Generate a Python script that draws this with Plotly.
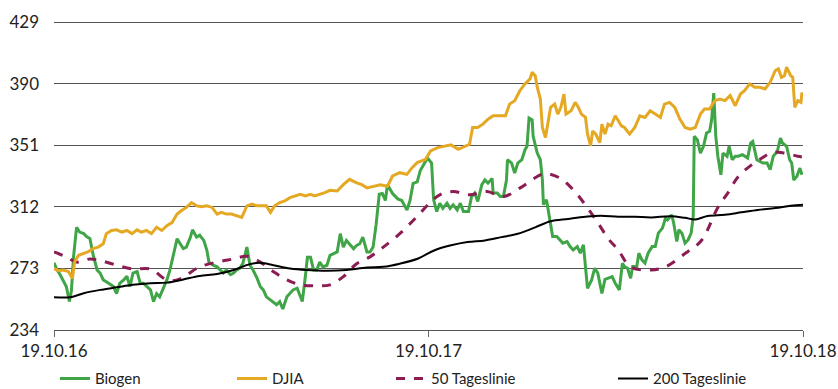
import pandas as pd
import plotly.graph_objects as go

START = "2016-10-19"

# Biogen (days since 19.10.2016, price)
bio_days = [0, 3, 6, 9, 12, 15, 17, 19, 22, 25, 29, 32, 35, 38, 42, 45, 48, 51, 55, 58, 61, 64, 68, 71, 74, 77, 81, 84, 87, 90,
            94, 97, 100, 103, 107, 110, 113, 116, 120, 123, 126, 129, 133, 135, 139, 142, 146, 149, 151, 155, 159, 162, 165, 168,
            172, 175, 178, 181, 184, 188, 191, 194, 198, 201, 204, 207, 211, 214, 217, 220, 223, 227, 230, 233, 237, 240, 242,
            245, 247, 250, 253, 256, 259, 262, 266, 269, 272, 276, 279, 282, 285, 288, 292, 295, 298, 301, 305, 308, 311, 314,
            317, 320, 323, 325, 327, 330, 335, 339, 344, 347, 350, 354, 357, 360, 364, 368, 370, 373, 376, 379, 383, 386, 389,
            393, 396, 399, 404, 407, 410, 413, 417, 420, 423, 427, 428, 432, 435, 438, 441, 442, 446, 449, 452, 456, 459, 461,
            463, 466, 467, 471, 474, 476, 477, 480, 483, 486, 490, 493, 496, 500, 503, 506, 510, 513, 516, 518, 520, 524, 527,
            530, 534, 537, 540, 544, 547, 551, 554, 556, 559, 562, 564, 568, 570, 573, 576, 579, 583, 586, 589, 593, 596, 598,
            602, 604, 607, 609, 612, 615, 618, 621, 623, 624, 627, 630, 633, 636, 639, 641, 643, 645, 647, 650, 652, 656, 658,
            661, 664, 667, 671, 673, 676, 679, 681, 685, 688, 691, 695, 698, 701, 705, 708, 710, 714, 717, 719, 721, 724, 727, 729]
bio_vals = [276.5, 272, 269, 265.7, 261.5, 252, 259, 280, 299, 296, 295, 293, 292, 282, 272, 270, 265.7, 264.6, 262.6, 261.5,
            257, 263.6, 265.7, 268, 261.5, 270, 271, 263.6, 263.6, 261.5, 259.4, 252, 257, 255, 261.5, 265.7, 272, 280, 291.8,
            288.6, 285.5, 286.5, 292.8, 297.4, 292.8, 294, 290.7, 284.5, 277, 275, 274, 272, 270, 272, 269, 270, 272, 273, 276,
            286.5, 275, 272, 266.7, 261.5, 259.4, 255, 253, 251, 250, 252, 247.3, 255, 257, 259.4, 260.5, 255, 252, 268, 280,
            280, 272, 272, 277, 274, 275, 281.3, 282.4, 283.4, 295, 286.5, 290.7, 288.6, 285.5, 287.6, 288.6, 292.8, 283.4,
            283.4, 286.5, 301, 320, 320.4, 316, 326, 323.6, 320.4, 317, 316, 310, 316, 326.8, 327.8, 335, 338.4, 342.9, 339.7,
            316.4, 309, 314.3, 311, 314.3, 311, 313.3, 310, 314.3, 309, 309, 318.5, 320.7, 315.4, 326, 329, 327, 330, 320.7,
            320.7, 318.5, 318.5, 329, 341.8, 339.7, 333.3, 339.7, 341.8, 348, 350.3, 368.2, 367, 356.6, 346, 341.8, 329, 313.3,
            316.4, 305.9, 293.2, 293.2, 291, 289, 290, 286.8, 284.7, 286.8, 282.6, 287.9, 274, 260.4, 265.7, 273.1, 270, 257.2,
            266, 266.8, 267.8, 263.6, 259.4, 276.3, 274.2, 273.1, 266.8, 274.2, 274.2, 282.6, 278.4, 276.3, 282.6, 286.8, 286.8,
            295.3, 298.5, 304.8, 303.7, 306.9, 301.6, 290, 297.4, 295.3, 289, 291, 295.3, 305.9, 356.6, 354.5, 346, 350.3, 358.7,
            359.8, 367.2, 384, 356.6, 344, 332.3, 346, 344, 350.3, 341.8, 344, 344, 345, 344, 342.9, 352.4, 353.4, 341.8, 340.7,
            339.7, 339.7, 335.5, 344, 347.1, 355.5, 352.4, 350.3, 341.8, 339.7, 329, 331.2, 336.5, 332.3]

# DJIA (rescaled)
dj_days = [0, 4, 9, 14, 18, 20, 24, 29, 33, 38, 43, 48, 51, 56, 61, 66, 71, 76, 81, 85, 90, 95, 100, 105, 110, 115, 120, 124,
           129, 134, 139, 144, 149, 154, 159, 163, 168, 173, 178, 183, 188, 193, 198, 202, 207, 211, 215, 220, 225, 230, 235,
           240, 245, 250, 254, 259, 264, 269, 276, 282, 288, 295, 300, 305, 311, 318, 325, 330, 337, 344, 349, 354, 362, 367,
           374, 381, 387, 394, 401, 405, 408, 413, 418, 423, 428, 435, 440, 444, 449, 454, 459, 464, 466, 469, 471, 474, 476,
           479, 481, 484, 488, 491, 494, 497, 499, 504, 508, 511, 514, 518, 520, 523, 525, 528, 532, 534, 537, 540, 543, 547,
           550, 553, 556, 561, 566, 571, 576, 581, 586, 591, 595, 600, 605, 610, 615, 620, 625, 630, 634, 639, 644, 649, 654,
           659, 664, 669, 673, 678, 683, 688, 693, 698, 703, 706, 709, 712, 714, 718, 720, 722, 725, 728, 729]
dj_vals = [273, 271.5, 272, 271, 266.7, 277, 281.3, 282.4, 283.4, 285.5, 286.5, 288.6, 295, 297, 297.4, 296, 297, 295, 297.4,
           296, 297, 295, 299, 297, 300, 302, 307.4, 309.5, 311.6, 314.7, 312.6, 312, 312.6, 311.6, 307.4, 308.5, 307.4, 307.4,
           306.4, 305.3, 312.6, 313.7, 312.6, 312.6, 312.6, 308.5, 312.6, 314.7, 315.8, 317.8, 318.9, 319.9, 318.9, 319.9,
           318.9, 319.9, 321, 322.4, 322, 326, 329.4, 327.2, 326, 324, 325, 326, 325, 331.5, 333.6, 332.5, 336.8, 340, 342,
           347.4, 349.5, 350.6, 351.2, 348.4, 350.6, 351.6, 362.2, 362.2, 364.3, 367.5, 369.6, 369.6, 369.6, 377, 379.2, 385.5,
           389.8, 393, 397.2, 395, 387.7, 380.2, 362.2, 355.9, 364.3, 375, 377, 370.7, 375, 383.4, 370.7, 372.8, 378.1, 375,
           370.7, 368.6, 358, 350.6, 360, 358, 352.7, 364.3, 358, 364.3, 363.3, 369.6, 366.5, 363.3, 362.2, 358, 362.2, 369.6,
           368.6, 372.8, 370.7, 368.6, 377, 378.1, 375, 367.5, 362.2, 361.2, 362.2, 370.7, 373.9, 373.9, 379.2, 380.2, 379.2,
           382.4, 376, 383.4, 385.5, 389.8, 387.7, 387.7, 386.6, 390.8, 398.3, 399.3, 394, 395, 400.4, 395, 394, 375, 379.2,
           378.1, 384.5]

# 50 Tageslinie
ma50_days = [0, 12, 22, 35, 45, 61, 77, 94, 110, 120, 129, 142, 159, 175, 188, 201, 214, 227, 240, 256, 269, 282, 295, 308,
             321, 337, 353, 366, 376, 389, 405, 422, 438, 454, 471, 479, 493, 506, 519, 530, 540, 550, 562, 582, 596, 615, 631,
             647, 657, 667, 680, 690, 700, 712, 725, 730]
ma50_vals = [283.4, 280.3, 277, 279, 278, 275, 272.6, 272.6, 265.7, 265.7, 268.8, 274, 277, 279, 280.7, 277, 270.9, 265.7,
             262.6, 262, 262.6, 267.8, 276, 280.3, 286.5, 295, 305.3, 314.3, 319.6, 321.7, 319.6, 321.7, 318.5, 323.8, 331.2,
             333, 330.2, 322.8, 312.2, 302, 292, 284.5, 274, 272, 274, 282.4, 290.7, 311.6, 321, 331.2, 338.6, 342.9, 346.5,
             346, 344, 343.5]

# 200 Tageslinie
ma200_days = [0, 16, 29, 45, 61, 77, 94, 110, 126, 142, 159, 175, 191, 201, 214, 230, 246, 266, 285, 305, 321, 337, 355, 371,
              387, 403, 420, 436, 452, 469, 484, 501, 518, 533, 550, 566, 582, 601, 615, 625, 637, 654, 670, 686, 703, 718, 730]
ma200_vals = [254.8, 254.8, 257.3, 259.4, 261, 262.6, 263.6, 264, 266, 268.2, 269.4, 272, 275.7, 276.5, 275, 273, 272, 271.5,
              272, 273.6, 274, 276, 279.3, 284.5, 287.6, 289.7, 290.7, 292.8, 294.9, 299, 302.8, 304.3, 305.7, 306.4, 305.7,
              305.7, 305.3, 306, 305, 304, 306.2, 307, 308.5, 310, 311.2, 312.6, 313.3]

y_ticks = [234, 273, 312, 351, 390, 429]
x_tick_dates = ["2016-10-19", "2017-10-19", "2018-10-19"]
x_tick_text = ["19.10.16", "19.10.17", "19.10.18"]


def to_dates(days):
    return pd.Timestamp(START) + pd.to_timedelta(days, unit="D")


FONT = "Lato"
fig = go.Figure()
fig.add_trace(go.Scatter(x=to_dates(bio_days), y=bio_vals, mode="lines", name="Biogen",
                         line=dict(color="#3fa546", width=3), legend="legend"))
fig.add_trace(go.Scatter(x=to_dates(ma50_days), y=ma50_vals, mode="lines", name="50 Tageslinie",
                         line=dict(color="#8b1d52", width=3, dash="dash", shape="spline"), legend="legend3"))
fig.add_trace(go.Scatter(x=to_dates(ma200_days), y=ma200_vals, mode="lines", name="200 Tageslinie",
                         line=dict(color="#000000", width=2, shape="spline"), legend="legend4"))
fig.add_trace(go.Scatter(x=to_dates(dj_days), y=dj_vals, mode="lines", name="DJIA",
                         line=dict(color="#e5a823", width=3), legend="legend2"))

# plot area: bottom edge at 330 px; 234..429 spans 308 px -> top margin 16 px gives headroom above 429
leg_common = dict(orientation="h", yanchor="middle", y=-0.155, xanchor="left",
                  font=dict(family=FONT, size=15, color="#222"), bgcolor="rgba(0,0,0,0)",
                  itemwidth=30, tracegroupgap=0)

fig.update_layout(
    width=838, height=389,
    margin=dict(l=54, r=35, t=16, b=59, autoexpand=False),
    paper_bgcolor="white", plot_bgcolor="white",
    font=dict(family=FONT, size=16, color="#222"),
    showlegend=True,
    legend=dict(x=0.0013, **leg_common),
    legend2=dict(x=0.2377, **leg_common),
    legend3=dict(x=0.4499, **leg_common),
    legend4=dict(x=0.7463, **leg_common),
    xaxis=dict(range=[pd.Timestamp("2016-10-19"), pd.Timestamp("2018-10-19")],
               tickvals=pd.to_datetime(x_tick_dates), ticktext=x_tick_text,
               showgrid=False, showline=True, linecolor="#555", linewidth=1,
               ticks="outside", ticklen=6, tickcolor="#666", tickwidth=1,
               tickfont=dict(family=FONT, size=17, color="#222"), zeroline=False, automargin=False),
    yaxis=dict(range=[234, 432.8], tickvals=y_ticks, ticktext=[str(v) for v in y_ticks],
               showgrid=True, gridcolor="#555", gridwidth=1, zeroline=False,
               showline=False, ticks="", ticklabelstandoff=14, automargin=False,
               tickfont=dict(family=FONT, size=17, color="#222")),
)

fig.write_html("out.html")
